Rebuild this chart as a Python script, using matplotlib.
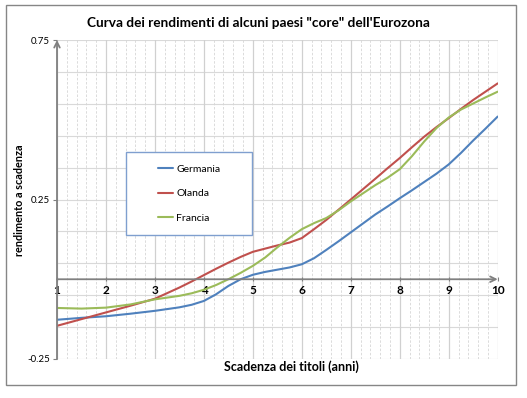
import matplotlib
matplotlib.use("Agg")
import matplotlib.pyplot as plt
from matplotlib.patches import Rectangle
from matplotlib.ticker import MultipleLocator, FixedLocator
import numpy as np

plt.rcParams['font.family'] = ['Lato', 'DejaVu Sans']

# ---- data ----
scadenze = [1, 1.5, 2, 2.5, 3, 3.5, 3.75, 4, 4.25, 4.5, 4.75, 5, 5.25, 5.5, 5.75,
            6, 6.25, 6.5, 6.75, 7, 7.5, 7.75, 8, 8.25, 8.5, 8.75, 9, 9.25, 9.5, 9.75, 10]
germania = [-0.127, -0.121, -0.116, -0.108, -0.099, -0.088, -0.080, -0.068, -0.047,
            -0.021, 0.000, 0.014, 0.023, 0.030, 0.037, 0.047, 0.066, 0.092, 0.119,
            0.147, 0.203, 0.228, 0.254, 0.279, 0.305, 0.331, 0.360, 0.396, 0.435,
            0.472, 0.510]
olanda = [-0.146, -0.125, -0.104, -0.083, -0.061, -0.026, -0.007, 0.013, 0.033,
          0.052, 0.070, 0.086, 0.096, 0.106, 0.115, 0.129, 0.157, 0.186, 0.218,
          0.250, 0.315, 0.348, 0.380, 0.414, 0.447, 0.477, 0.505, 0.534, 0.562,
          0.588, 0.614]
francia = [-0.090, -0.092, -0.089, -0.079, -0.063, -0.052, -0.044, -0.033, -0.018,
           0.000, 0.020, 0.042, 0.068, 0.100, 0.130, 0.157, 0.176, 0.192, 0.216,
           0.244, 0.295, 0.318, 0.345, 0.386, 0.432, 0.474, 0.507, 0.532, 0.551,
           0.570, 0.588]
serie_nomi = ["Germania", "Olanda", "Francia"]
x_ticks = [1, 2, 3, 4, 5, 6, 7, 8, 9, 10]
y_ticks = [-0.25, 0.25, 0.75]
y_tick_labels = ["-0.25", "0.25", "0.75"]
titolo = "Curva dei rendimenti di alcuni paesi \"core\" dell'Eurozona"

colori = ["#4F81BD", "#C0504D", "#9BBB59"]

W, H = 527, 398
fig = plt.figure(figsize=(W / 100, H / 100), dpi=100)
fig.patch.set_facecolor("white")

def fx(px):
    return px / W

def fy(py):
    return 1 - py / H

ax = fig.add_axes([fx(57), fy(359), fx(497.7) - fx(57), fy(40) - fy(359)])
ax.set_xlim(1, 10)
ax.set_ylim(-0.25, 0.75)

# grid
ax.xaxis.set_major_locator(FixedLocator(x_ticks))
ax.xaxis.set_minor_locator(MultipleLocator(0.2))
ax.yaxis.set_major_locator(FixedLocator(y_ticks))
ygrid = np.arange(-0.25, 0.751, 0.1)
for v in ygrid:
    ax.axhline(v, color="#d9d9d9", lw=0.8, zorder=0.5)
ax.grid(which="major", axis="x", color="#d0d0d0", lw=0.9, zorder=0.5)
ax.grid(which="minor", axis="x", color="#d6d6d6", lw=0.6, ls=(0, (3, 2)), zorder=0.5)
ax.set_axisbelow(True)

for s in ax.spines.values():
    s.set_visible(False)
ax.spines['bottom'].set_position(('data', 0))

ax.set_xticks(x_ticks)
ax.set_xticklabels([str(t) for t in x_ticks], fontweight="bold", fontsize=8.5)
ax.set_yticks(y_ticks)
ax.set_yticklabels(y_tick_labels, fontsize=7)
ax.tick_params(axis="x", which="major", length=3, color="#808080", pad=3, direction="inout")
ax.tick_params(axis="x", which="minor", length=0)
ax.tick_params(axis="y", length=3, color="#808080", pad=2)

# axis arrows
ax.annotate("", xy=(10, 0), xytext=(1, 0),
            arrowprops=dict(arrowstyle="->", color="#808080", lw=1.3, shrinkA=0, shrinkB=0,
                            mutation_scale=10), zorder=3, annotation_clip=False)
ax.annotate("", xy=(1, 0.75), xytext=(1, -0.25),
            arrowprops=dict(arrowstyle="->", color="#808080", lw=1.3, shrinkA=0, shrinkB=0,
                            mutation_scale=10), zorder=3, annotation_clip=False)

series = [germania, olanda, francia]
for nome, vals, c in zip(serie_nomi, series, colori):
    ax.plot(scadenze, vals, color=c, lw=1.5, label=nome, zorder=2,
            solid_capstyle="round", solid_joinstyle="round")

# legend box
box = Rectangle((fx(126), fy(235)), fx(252) - fx(126), fy(152) - fy(235),
                transform=fig.transFigure, facecolor="white", edgecolor="#7F9FCF",
                lw=1.0, zorder=4)
ax.add_patch(box)
box.set_clip_on(False)
leg = ax.legend(loc="center", bbox_to_anchor=(fx(189), fy(193.5)),
                bbox_transform=fig.transFigure, frameon=False, fontsize=7.5,
                handlelength=1.45, handletextpad=0.3, labelspacing=1.45)
leg.set_zorder(5)

# texts
fig.text(fx(258), fy(23), titolo, ha="center", va="center", fontsize=9.8,
         fontweight="bold")
fig.text(fx(20), fy(200), "rendimento a scadenza", ha="center", va="center",
         rotation=90, fontsize=7.8, fontweight="bold")
fig.text(fx(291), fy(367), "Scadenza dei titoli (anni)", ha="center", va="center",
         fontsize=9, fontweight="bold")

# outer border
fig.patches.append(Rectangle((fx(6), fy(385)), fx(516) - fx(6), fy(5) - fy(385),
                             transform=fig.transFigure, fill=False,
                             edgecolor="#868686", lw=1.0))

fig.savefig("out.png", dpi=100, facecolor="white")
